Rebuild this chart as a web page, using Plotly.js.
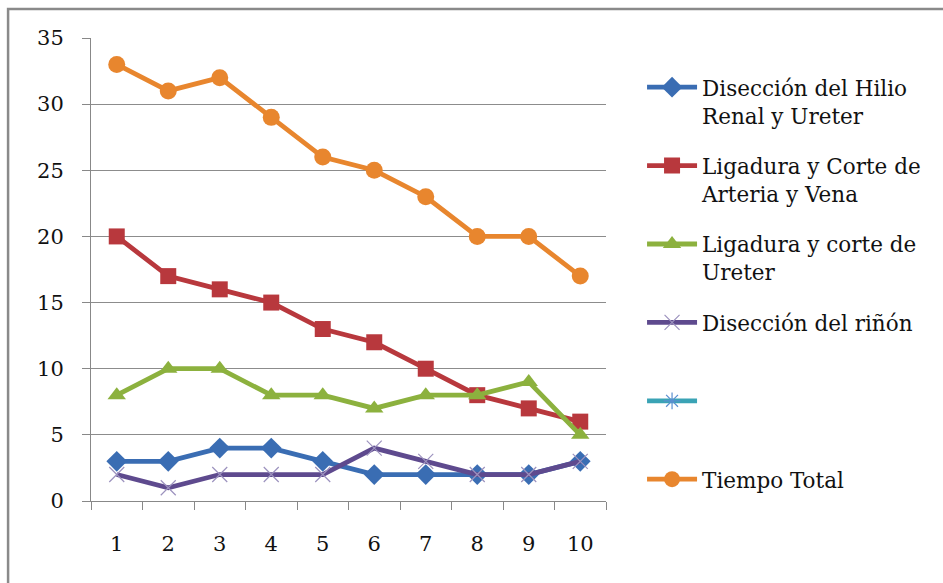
<!DOCTYPE html>
<html>
<head>
<meta charset="utf-8">
<script src="https://cdn.plot.ly/plotly-3.0.1.min.js"></script>
<style>
  html, body { margin: 0; padding: 0; background: #ffffff; }
  #chart { width: 943px; height: 583px; }
</style>
</head>
<body>
<div id="chart"></div>
<script>
// Surgical step times (minutes) across ten consecutive cases
const cases = ['1', '2', '3', '4', '5', '6', '7', '8', '9', '10'];

const hilioRenal   = [3, 3, 4, 4, 3, 2, 2, 2, 2, 3];
const arteriaVena  = [20, 17, 16, 15, 13, 12, 10, 8, 7, 6];
const corteUreter  = [8, 10, 10, 8, 8, 7, 8, 8, 9, 5];
const diseccionRin = [2, 1, 2, 2, 2, 4, 3, 2, 2, 3];
const sinNombre    = [null, null, null, null, null, null, null, null, null, null];
const tiempoTotal  = [33, 31, 32, 29, 26, 25, 23, 20, 20, 17];

const names = [
  'Disección del Hilio<br>Renal y Ureter',
  'Ligadura y Corte de<br>Arteria y Vena',
  'Ligadura y corte de<br>Ureter',
  'Disección del riñón<br>\u00a0',
  '\u00a0<br>\u00a0',
  'Tiempo Total<br>\u00a0'
];

const serif = 'DejaVu Serif';

function series(y, name, color, marker, group) {
  return {
    type: 'scatter', mode: 'lines+markers',
    x: cases, y: y, name: name, legendgroup: group,
    line: { color: color, width: 4.8 },
    marker: marker
  };
}

const traces = [
  series(hilioRenal, names[0], '#3A6DB3',
    { symbol: 'diamond', size: 16, color: '#3A6DB3' }, 'g1'),
  series(arteriaVena, names[1], '#B8383D',
    { symbol: 'square', size: 16, color: '#B8383D' }, 'g2'),
  series(corteUreter, names[2], '#8CB13E',
    { symbol: 'triangle-up', size: 16, color: '#8CB13E' }, 'g3'),
  series(diseccionRin, names[3], '#5E4A8E',
    { symbol: 'x-thin-open', size: 15, color: '#9C92BE', line: { width: 1.2, color: '#9C92BE' } }, 'g4'),
  series(sinNombre, names[4], '#3AA3B5',
    { symbol: 'asterisk-open', size: 14, color: '#5A8FD0', line: { width: 1.2, color: '#5A8FD0' } }, 'g5'),
  series(tiempoTotal, names[5], '#E8862E',
    { symbol: 'circle', size: 17, color: '#E8862E' }, 'g6')
];

const layout = {
  width: 943, height: 583,
  margin: { l: 91, r: 337, t: 38, b: 82 },
  paper_bgcolor: '#ffffff', plot_bgcolor: '#ffffff',
  font: { family: serif, size: 21, color: '#111111' },
  showlegend: true,
  legend: {
    x: 1.07, xanchor: 'left', y: 0.938, yanchor: 'top',
    valign: 'top',
    tracegroupgap: 19.5,
    itemwidth: 50,
    font: { family: serif, size: 21.5, color: '#111111' },
    bgcolor: 'rgba(0,0,0,0)'
  },
  xaxis: {
    type: 'category',
    range: [-0.5, 9.5],
    tickson: 'boundaries',
    ticks: 'outside', ticklen: 8, tickcolor: '#888888',
    showline: true, linecolor: '#888888', linewidth: 1,
    showgrid: false, zeroline: false,
    ticklabelstandoff: 24,
    tickfont: { family: serif, size: 21, color: '#111111' }
  },
  yaxis: {
    range: [0, 35], dtick: 5,
    ticks: 'outside', ticklen: 8, tickcolor: '#888888',
    showline: true, linecolor: '#888888', linewidth: 1,
    showgrid: true, gridcolor: '#8c8c8c', gridwidth: 1,
    zeroline: false,
    ticklabelstandoff: 14,
    tickfont: { family: serif, size: 21, color: '#111111' }
  },
  shapes: [{
    type: 'rect', xref: 'paper', yref: 'paper',
    x0: -0.161, x1: 1.7, y0: -0.2, y1: 1.0626,
    line: { color: '#8a8a8a', width: 2.5 }
  }]
};

Plotly.newPlot('chart', traces, layout, { staticPlot: true, displayModeBar: false });
</script>
</body>
</html>
